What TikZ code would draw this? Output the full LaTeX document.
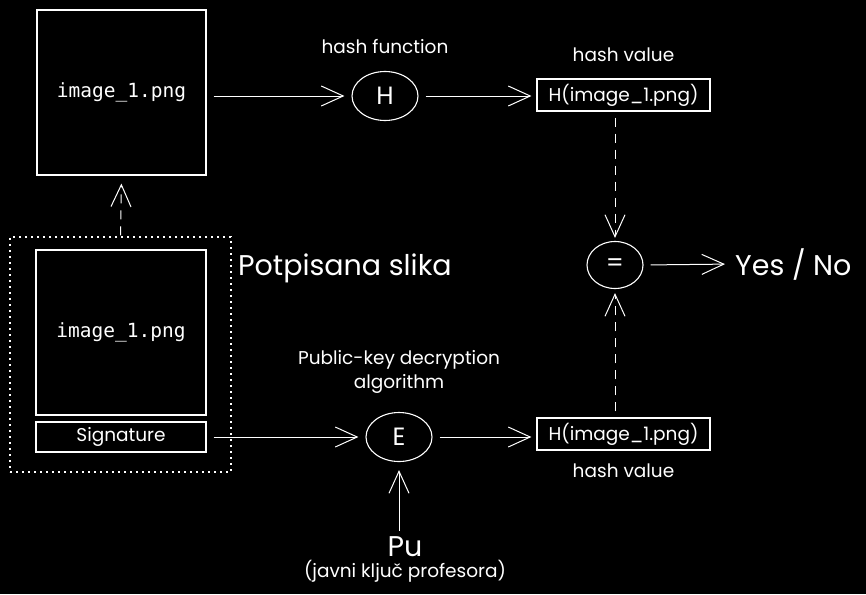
\documentclass[tikz,border=0pt]{standalone}
\usepackage{fontspec}
\newfontfamily\handfont{Poppins}
\newfontfamily\codefont{DejaVu Sans Mono}
\usetikzlibrary{arrows.meta}
\usetikzlibrary{shapes.geometric}
\usetikzlibrary{positioning}

\tikzset{
    box/.style={draw=white, line width=1.1pt, inner sep=0pt, text=white},
    bubble/.style={draw=white, ellipse, line width=1.1pt, inner sep=0pt,
        minimum width=66pt, minimum height=49pt, text=white,
        font=\handfont\fontsize{25}{28}\selectfont},
    arr/.style={draw=white, line width=1pt,
        -{Straight Barb[length=22pt,width=20pt,line width=1pt]}},
    dasharr/.style={arr, dash pattern=on 9pt off 7pt},
    lbl/.style={text=white, align=center, inner sep=0pt,
        font=\handfont\fontsize{18.5}{24}\selectfont},
    big/.style={text=white, inner sep=0pt,
        font=\handfont\fontsize{28.5}{32}\selectfont},
    code/.style={font=\codefont\fontsize{19.5}{22}\selectfont},
}

\begin{document}
\begin{tikzpicture}[x=1pt, y=-1pt]
    \fill[black] (0,0) rectangle (866,594);
    \useasboundingbox (0,0) rectangle (866,594);

    % top row
    \node[box, code, minimum width=169pt, minimum height=165pt] (img) at (121.5,92.5) {image\_1.png};
    \node[bubble] (H) at (385,96) {H};
    \node[box, lbl, minimum width=173pt, minimum height=32pt] (hv1) at (623.5,95) {H(image\_1.png)};
    \node[lbl, above=17pt of H] (hfun) {hash function};
    \node[lbl, above=17pt of hv1] (hvlbl1) {hash value};

    % signed picture
    \node[draw=white, line width=1.2pt, dash pattern=on 2pt off 4pt,
        minimum width=221pt, minimum height=235pt] (signed) at (120.5,354.5) {};
    \node[box, code, minimum width=170pt, minimum height=165pt] (img2) at (121,332.5) {image\_1.png};
    \node[box, lbl, minimum width=170pt, minimum height=30pt] (sig) at (121,437) {Signature};
    \node[big, anchor=west] (slika) at (238,268) {Potpisana slika};

    % bottom row
    \node[bubble] (E) at (399,437) {E};
    \node[box, lbl, minimum width=173pt, minimum height=32pt] (hv2) at (623.5,434) {H(image\_1.png)};
    \node[lbl, below=13pt of hv2] (hvlbl2) {hash value};
    \node[lbl, above=18pt of E] (alg) {Public-key decryption\\algorithm};
    \node[big] (pu) at (405,547) {Pu};
    \node[lbl, below=3pt of pu] (key) {(javni ključ profesora)};

    % comparison
    \node[bubble, minimum width=56pt, minimum height=47pt] (eq) at (615,265) {=};
    \node[big, anchor=west] (yn) at (735,264) {Yes / No};

    % connectors
    \draw[arr, shorten <=7pt, shorten >=7pt] (img.east |- H.west) -- (H.west);
    \draw[arr, shorten <=7pt, shorten >=5pt] (H.east) -- (H.east -| hv1.west);
    \draw[dasharr, shorten <=6pt, shorten >=3pt] (eq.north |- hv1.south) -- (eq.north);
    \draw[arr, shorten <=7pt, shorten >=10pt] (eq.east) -- (yn.west);
    \draw[dasharr, shorten <=1pt, shorten >=8pt] (signed.north) -- (img.south);
    \draw[arr, shorten <=7pt, shorten >=7pt] (sig.east) -- (E.west);
    \draw[arr, shorten <=7pt, shorten >=5pt] (E.east) -- (E.east -| hv2.west);
    \draw[dasharr, shorten <=6pt, shorten >=4pt] (eq.south |- hv2.north) -- (eq.south);
    \draw[arr, shorten <=6pt, shorten >=8pt] (E.south |- pu.north) -- (E.south);
\end{tikzpicture}
\end{document}
